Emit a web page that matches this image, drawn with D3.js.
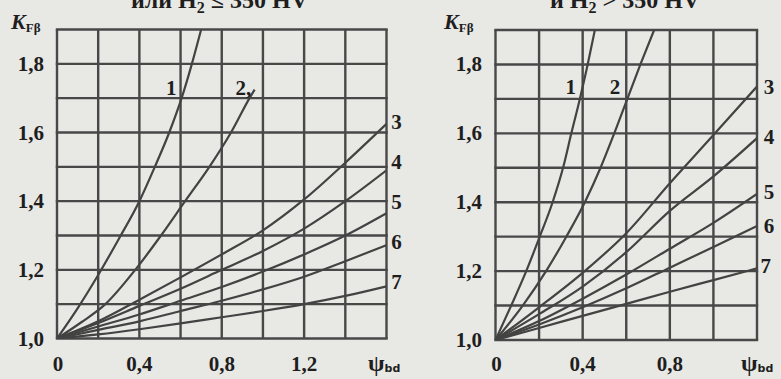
<!DOCTYPE html>
<html>
<head>
<meta charset="utf-8">
<script src="https://cdn.jsdelivr.net/npm/d3@7"></script>
<style>
  html, body { margin: 0; padding: 0; background: #e8e8e5; }
  svg { display: block; }
  text { font-family: "Liberation Serif", "Times New Roman", serif; fill: #1e1e1e; }
</style>
</head>
<body>
<svg id="chart" width="781" height="379"></svg>
<script>
// K_Fβ versus ψbd — two nomograms (left: H2 ≤ 350 HV, right: H2 > 350 HV)

// ---- axis ticks ----
const leftPsiTicks = [0, 0.4, 0.8, 1.2];
const rightPsiTicks = [0, 0.4, 0.8];
const kTicks = [1.0, 1.2, 1.4, 1.6, 1.8];
const leftPsiGrid = [0, 0.2, 0.4, 0.6, 0.8, 1.0, 1.2, 1.4, 1.6];
const rightPsiGrid = [0, 0.2, 0.4, 0.6, 0.8, 1.0, 1.2];
const kGrid = [1.0, 1.1, 1.2, 1.3, 1.4, 1.5, 1.6, 1.7, 1.8, 1.9];

// ---- curve names ----
const curveNames = ["1", "2", "3", "4", "5", "6", "7"];

// ---- left chart curves: [ψbd, K_Fβ] ----
const leftCurve1 = [[0,1],[0.1,1.088],[0.2,1.185],[0.3,1.29],[0.4,1.4],[0.475,1.5],[0.545,1.6],[0.605,1.7],[0.655,1.8],[0.70,1.9]];
const leftCurve2 = [[0,1],[0.12,1.048],[0.235,1.1],[0.38,1.2],[0.505,1.3],[0.622,1.4],[0.74,1.5],[0.845,1.6],[0.935,1.7],[0.96,1.725]];
const leftCurve3 = [[0,1],[0.2,1.05],[0.4,1.113],[0.6,1.178],[0.8,1.245],[1.0,1.315],[1.2,1.405],[1.4,1.512],[1.6,1.625]];
const leftCurve4 = [[0,1],[0.2,1.045],[0.4,1.095],[0.6,1.145],[0.8,1.2],[1.0,1.255],[1.2,1.32],[1.4,1.4],[1.6,1.49]];
const leftCurve5 = [[0,1],[0.2,1.035],[0.4,1.07],[0.6,1.11],[0.8,1.15],[1.0,1.195],[1.2,1.245],[1.4,1.3],[1.6,1.365]];
const leftCurve6 = [[0,1],[0.2,1.025],[0.4,1.05],[0.6,1.08],[0.8,1.11],[1.0,1.143],[1.2,1.18],[1.4,1.225],[1.6,1.272]];
const leftCurve7 = [[0,1],[0.2,1.012],[0.4,1.027],[0.6,1.044],[0.8,1.062],[1.0,1.08],[1.2,1.1],[1.4,1.124],[1.6,1.152]];

// ---- right chart curves: [ψbd, K_Fβ] ----
const rightCurve1 = [[0,1],[0.072,1.1],[0.141,1.2],[0.203,1.3],[0.262,1.4],[0.31,1.5],[0.348,1.6],[0.387,1.7],[0.423,1.8],[0.456,1.9]];
const rightCurve2 = [[0,1],[0.125,1.1],[0.232,1.2],[0.325,1.3],[0.41,1.4],[0.482,1.5],[0.545,1.6],[0.605,1.7],[0.665,1.8],[0.728,1.9]];
const rightCurve3 = [[0,1],[0.2,1.095],[0.4,1.195],[0.6,1.31],[0.8,1.455],[1.0,1.595],[1.2,1.736]];
const rightCurve4 = [[0,1],[0.2,1.075],[0.4,1.155],[0.6,1.255],[0.8,1.375],[1.0,1.475],[1.2,1.586]];
const rightCurve5 = [[0,1],[0.2,1.055],[0.4,1.12],[0.6,1.19],[0.8,1.265],[1.0,1.34],[1.2,1.424]];
const rightCurve6 = [[0,1],[0.2,1.045],[0.4,1.095],[0.6,1.15],[0.8,1.21],[1.0,1.27],[1.2,1.331]];
const rightCurve7 = [[0,1],[0.2,1.035],[0.4,1.07],[0.6,1.105],[0.8,1.14],[1.0,1.174],[1.2,1.208]];

// ---- headings ----
const leftHeading = "или H";
const leftHeadingTail = " ≤ 350 HV";
const rightHeading = "и H";
const rightHeadingTail = " > 350 HV";

const fmt = v => v === 0 ? "0" : d3.format(".1f")(v).replace(".", ",");

const svg = d3.select("#chart");
const INK = "#484848";

function panel(cfg) {
  const x = d3.scaleLinear().domain(cfg.psiDomain).range(cfg.xRange);
  const y = d3.scaleLinear().domain([1.0, 1.9]).range(cfg.yRange);
  const g = svg.append("g");

  // grid
  g.selectAll("line.v").data(cfg.psiGrid).join("line")
    .attr("x1", d => x(d)).attr("x2", d => x(d))
    .attr("y1", y(1.0)).attr("y2", y(1.9))
    .attr("stroke", INK).attr("stroke-width", 2.4);
  g.selectAll("line.h").data(kGrid).join("line")
    .attr("x1", x(cfg.psiDomain[0]) - 1.2).attr("x2", x(cfg.psiDomain[1]) + 1.2)
    .attr("y1", d => y(d)).attr("y2", d => y(d))
    .attr("stroke", INK).attr("stroke-width", 2.4);

  // curves, clipped to the plotting frame
  const clipId = "clip-" + cfg.id;
  svg.append("clipPath").attr("id", clipId).append("rect")
    .attr("x", x(cfg.psiDomain[0])).attr("y", y(1.9))
    .attr("width", x(cfg.psiDomain[1]) - x(cfg.psiDomain[0]))
    .attr("height", y(1.0) - y(1.9));
  const line = d3.line().x(d => x(d[0])).y(d => y(d[1])).curve(d3.curveMonotoneX);
  g.append("g").attr("clip-path", `url(#${clipId})`)
    .selectAll("path").data(cfg.curves).join("path")
    .attr("d", line).attr("fill", "none")
    .attr("stroke", "#434343").attr("stroke-width", 2.2)
    .attr("stroke-linejoin", "round");

  // y tick labels
  g.selectAll("text.ky").data(kTicks).join("text")
    .attr("x", cfg.yLabelX).attr("y", d => y(d) + 7)
    .attr("text-anchor", "end").attr("font-size", 21).attr("font-weight", "bold")
    .text(fmt);

  // x tick labels
  g.selectAll("text.kx").data(cfg.psiTicks).join("text")
    .attr("x", d => x(d) + (d === 0 ? 1 : 0)).attr("y", 371)
    .attr("text-anchor", "middle").attr("font-size", 21).attr("font-weight", "bold")
    .text(fmt);

  // axis title ψbd
  const xt = g.append("text").attr("x", cfg.psiTitleX).attr("y", 371);
  xt.append("tspan").attr("font-size", 24).attr("font-weight", "bold").text("ψ");
  xt.append("tspan").attr("font-size", 11).attr("font-weight", "bold")
    .attr("font-family", "DejaVu Sans, sans-serif").attr("dy", 1).text("bd");

  // axis title K_Fβ
  const kt = g.append("text").attr("x", cfg.kTitleX).attr("y", 29);
  kt.append("tspan").attr("font-size", 22).attr("font-weight", "bold")
    .attr("font-style", "italic").text("K");
  kt.append("tspan").attr("font-size", 13).attr("font-weight", "bold")
    .attr("dy", 3).text("Fβ");

  // curve numbers
  g.selectAll("text.cn").data(cfg.labels).join("text")
    .attr("x", d => x(d.psi)).attr("y", d => y(d.k) + 7)
    .attr("text-anchor", "middle").attr("font-size", 21).attr("font-weight", "bold")
    .text(d => d.name);

  // heading (its upper part runs off the top of the page)
  const ht = g.append("text").attr("x", cfg.headX).attr("y", 8)
    .attr("font-size", 24).attr("font-weight", "bold");
  ht.append("tspan").text(cfg.heading[0]);
  ht.append("tspan").attr("font-size", 16).attr("dy", 5).text("2");
  ht.append("tspan").attr("dy", -5).text(cfg.heading[1]);
}

panel({
  id: "left",
  psiDomain: [0, 1.6], xRange: [57, 386.5], yRange: [338.5, 29.5],
  psiGrid: leftPsiGrid, psiTicks: leftPsiTicks,
  curves: [leftCurve1, leftCurve2, leftCurve3, leftCurve4, leftCurve5, leftCurve6, leftCurve7],
  yLabelX: 44, psiTitleX: 368, kTitleX: 11, headX: 131,
  heading: [leftHeading, leftHeadingTail],
  labels: [
    {name: curveNames[0], psi: 0.555, k: 1.73},
    {name: curveNames[1] + ",", psi: 0.905, k: 1.73},
    {name: curveNames[2], psi: 1.648, k: 1.632},
    {name: curveNames[3], psi: 1.648, k: 1.515},
    {name: curveNames[4], psi: 1.648, k: 1.398},
    {name: curveNames[5], psi: 1.648, k: 1.281},
    {name: curveNames[6], psi: 1.648, k: 1.165}
  ]
});

panel({
  id: "right",
  psiDomain: [0, 1.2], xRange: [495.5, 757], yRange: [340, 30],
  psiGrid: rightPsiGrid, psiTicks: rightPsiTicks,
  curves: [rightCurve1, rightCurve2, rightCurve3, rightCurve4, rightCurve5, rightCurve6, rightCurve7],
  yLabelX: 482, psiTitleX: 741, kTitleX: 444, headX: 550,
  heading: [rightHeading, rightHeadingTail],
  labels: [
    {name: curveNames[0], psi: 0.345, k: 1.734},
    {name: curveNames[1], psi: 0.548, k: 1.734},
    {name: curveNames[2], psi: 1.255, k: 1.734},
    {name: curveNames[3], psi: 1.255, k: 1.589},
    {name: curveNames[4], psi: 1.255, k: 1.43},
    {name: curveNames[5], psi: 1.255, k: 1.331},
    {name: curveNames[6], psi: 1.24, k: 1.215}
  ]
});
</script>
</body>
</html>
